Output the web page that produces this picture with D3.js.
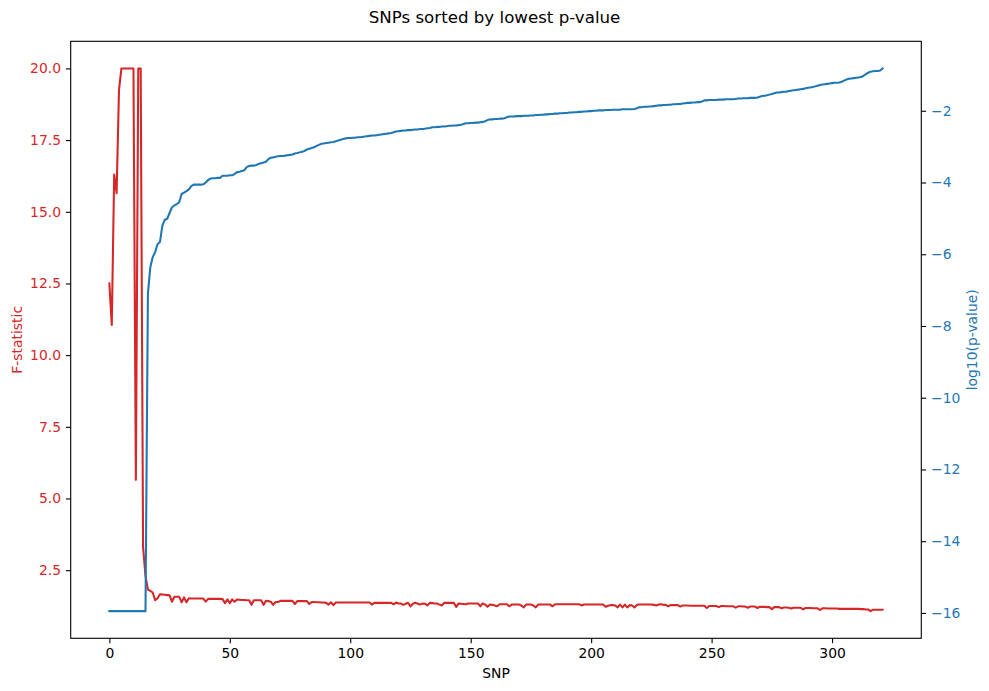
<!DOCTYPE html>
<html>
<head>
<meta charset="utf-8">
<script src="https://cdn.jsdelivr.net/npm/d3@7"></script>
<style>
  body { margin: 0; background: #fff; }
  text { font-family: "DejaVu Sans", sans-serif; }
</style>
</head>
<body>
<div id="chart"></div>
<script>
/* F-statistic per SNP, sorted by lowest p-value. */
const fStatistic = [
  12.5, 11.05, 16.3, 15.65, 19.25, 20, 20, 20, 20, 20,
  20, 5.65, 20, 20, 3.3, 2.3, 1.82, 1.78, 1.72, 1.45,
  1.52, 1.66, 1.65, 1.64, 1.63, 1.62, 1.4, 1.57, 1.57, 1.57,
  1.38, 1.55, 1.38, 1.52, 1.51, 1.51, 1.51, 1.51, 1.51, 1.51,
  1.4, 1.5, 1.5, 1.5, 1.5, 1.5, 1.5, 1.49, 1.35, 1.48,
  1.35, 1.48, 1.4, 1.48, 1.47, 1.46, 1.46, 1.45, 1.45, 1.29,
  1.45, 1.45, 1.45, 1.45, 1.29, 1.43, 1.42, 1.4, 1.29, 1.39,
  1.39, 1.43, 1.43, 1.43, 1.43, 1.43, 1.43, 1.32, 1.42, 1.42,
  1.42, 1.42, 1.42, 1.32, 1.39, 1.39, 1.38, 1.38, 1.37, 1.37,
  1.36, 1.3, 1.38, 1.28, 1.37, 1.37, 1.37, 1.37, 1.37, 1.37,
  1.37, 1.37, 1.37, 1.37, 1.37, 1.37, 1.37, 1.37, 1.37, 1.3,
  1.36, 1.36, 1.36, 1.36, 1.36, 1.36, 1.36, 1.36, 1.31, 1.37,
  1.34, 1.34, 1.29, 1.33, 1.36, 1.24, 1.33, 1.36, 1.33, 1.3,
  1.34, 1.33, 1.27, 1.36, 1.35, 1.34, 1.34, 1.3, 1.27, 1.36,
  1.36, 1.36, 1.36, 1.36, 1.22, 1.34, 1.33, 1.32, 1.31, 1.34,
  1.34, 1.34, 1.34, 1.34, 1.24, 1.34, 1.3, 1.22, 1.3, 1.29,
  1.27, 1.24, 1.31, 1.31, 1.31, 1.31, 1.24, 1.3, 1.3, 1.3,
  1.3, 1.27, 1.2, 1.3, 1.3, 1.3, 1.27, 1.2, 1.3, 1.3,
  1.3, 1.3, 1.3, 1.3, 1.24, 1.31, 1.31, 1.31, 1.31, 1.31,
  1.31, 1.31, 1.31, 1.31, 1.31, 1.31, 1.27, 1.3, 1.3, 1.3,
  1.3, 1.3, 1.3, 1.3, 1.3, 1.3, 1.22, 1.26, 1.28, 1.28,
  1.27, 1.2, 1.3, 1.2, 1.3, 1.2, 1.28, 1.27, 1.2, 1.29,
  1.3, 1.3, 1.3, 1.3, 1.3, 1.3, 1.29, 1.27, 1.3, 1.31,
  1.29, 1.29, 1.24, 1.28, 1.28, 1.28, 1.28, 1.23, 1.27, 1.27,
  1.27, 1.26, 1.26, 1.26, 1.26, 1.26, 1.26, 1.26, 1.18, 1.25,
  1.25, 1.25, 1.25, 1.21, 1.25, 1.25, 1.24, 1.24, 1.24, 1.24,
  1.19, 1.24, 1.24, 1.23, 1.23, 1.19, 1.23, 1.23, 1.23, 1.18,
  1.22, 1.22, 1.22, 1.21, 1.21, 1.14, 1.21, 1.21, 1.21, 1.17,
  1.2, 1.2, 1.19, 1.16, 1.19, 1.19, 1.19, 1.19, 1.13, 1.18,
  1.18, 1.18, 1.17, 1.17, 1.17, 1.11, 1.17, 1.17, 1.16, 1.16,
  1.16, 1.16, 1.16, 1.15, 1.15, 1.15, 1.15, 1.15, 1.15, 1.15,
  1.15, 1.15, 1.14, 1.14, 1.13, 1.13, 1.07, 1.12, 1.12, 1.12,
  1.12, 1.12
]

/* log10(p-value) per SNP. */
const log10PValue = [
  -15.95, -15.95, -15.95, -15.95, -15.95, -15.95, -15.95, -15.95, -15.95, -15.95,
  -15.95, -15.95, -15.95, -15.95, -15.95, -15.95, -7.1, -6.36, -6.08, -5.94,
  -5.72, -5.66, -5.2, -5.04, -5.01, -4.85, -4.69, -4.64, -4.6, -4.55,
  -4.32, -4.28, -4.24, -4.19, -4.1, -4.06, -4.06, -4.06, -4.06, -4.05,
  -4, -3.93, -3.89, -3.88, -3.88, -3.87, -3.87, -3.81, -3.81, -3.81,
  -3.8, -3.8, -3.76, -3.71, -3.7, -3.68, -3.66, -3.57, -3.54, -3.53,
  -3.53, -3.51, -3.48, -3.46, -3.44, -3.42, -3.35, -3.31, -3.3, -3.28,
  -3.27, -3.26, -3.26, -3.25, -3.24, -3.23, -3.22, -3.19, -3.18, -3.16,
  -3.14, -3.12, -3.08, -3.06, -3.04, -3.02, -2.98, -2.95, -2.92, -2.91,
  -2.9, -2.89, -2.88, -2.87, -2.85, -2.83, -2.81, -2.79, -2.77, -2.76,
  -2.76, -2.75, -2.75, -2.74, -2.74, -2.73, -2.72, -2.71, -2.7, -2.69,
  -2.69, -2.68, -2.67, -2.66, -2.65, -2.64, -2.63, -2.62, -2.6, -2.58,
  -2.57, -2.56, -2.55, -2.55, -2.54, -2.54, -2.53, -2.52, -2.52, -2.51,
  -2.51, -2.5, -2.49, -2.48, -2.46, -2.46, -2.45, -2.45, -2.44, -2.44,
  -2.43, -2.42, -2.42, -2.41, -2.41, -2.4, -2.39, -2.37, -2.35, -2.35,
  -2.34, -2.34, -2.33, -2.33, -2.32, -2.31, -2.29, -2.26, -2.24, -2.24,
  -2.23, -2.23, -2.22, -2.22, -2.21, -2.18, -2.16, -2.16, -2.16, -2.15,
  -2.15, -2.15, -2.14, -2.14, -2.14, -2.13, -2.13, -2.12, -2.12, -2.11,
  -2.11, -2.1, -2.1, -2.09, -2.09, -2.08, -2.08, -2.07, -2.07, -2.06,
  -2.06, -2.05, -2.05, -2.04, -2.04, -2.03, -2.03, -2.02, -2.02, -2.01,
  -2.01, -2, -2, -1.99, -1.99, -1.99, -1.98, -1.98, -1.98, -1.97,
  -1.97, -1.97, -1.97, -1.96, -1.96, -1.96, -1.96, -1.96, -1.95, -1.93,
  -1.9, -1.9, -1.89, -1.89, -1.88, -1.88, -1.87, -1.86, -1.85, -1.85,
  -1.84, -1.84, -1.83, -1.83, -1.82, -1.82, -1.81, -1.81, -1.8, -1.79,
  -1.78, -1.78, -1.77, -1.77, -1.76, -1.76, -1.74, -1.71, -1.71, -1.7,
  -1.7, -1.7, -1.7, -1.69, -1.69, -1.69, -1.68, -1.68, -1.68, -1.68,
  -1.67, -1.66, -1.66, -1.65, -1.65, -1.65, -1.64, -1.64, -1.64, -1.63,
  -1.61, -1.59, -1.58, -1.57, -1.55, -1.53, -1.51, -1.49, -1.49, -1.48,
  -1.47, -1.47, -1.45, -1.44, -1.43, -1.42, -1.41, -1.4, -1.39, -1.37,
  -1.36, -1.35, -1.34, -1.32, -1.3, -1.28, -1.27, -1.26, -1.25, -1.24,
  -1.23, -1.22, -1.22, -1.21, -1.19, -1.16, -1.13, -1.11, -1.1, -1.09,
  -1.08, -1.07, -1.06, -1.03, -0.98, -0.94, -0.91, -0.9, -0.89, -0.89,
  -0.88, -0.82
]

/* Tick values. */
const xTicks = [0, 50, 100, 150, 200, 250, 300]
const fTicks = [2.5, 5, 7.5, 10, 12.5, 15, 17.5, 20]
const pTicks = [-16, -14, -12, -10, -8, -6, -4, -2]

/* Define svg-size and plot box. */
const width = 989
const height = 691
const margin = {top: 41.3, right: 67.7, bottom: 52.7, left: 70.7}

const red = "#d62728"
const blue = "#1f77b4"
const tickFont = 13.9

/* Pad a domain by 5% like matplotlib. */
const pad = ([lo, hi]) => [lo - (hi - lo) * 0.05, hi + (hi - lo) * 0.05]

/* Create svg-element. */
const svg = d3.select("#chart")
  .append("svg")
  .attr("width", width)
  .attr("height", height)

/* Define scales. */
const x = d3.scaleLinear()
  .domain(pad([0, fStatistic.length - 1]))
  .range([margin.left, width - margin.right])

const yF = d3.scaleLinear()
  .domain(pad(d3.extent(fStatistic)))
  .range([height - margin.bottom, margin.top])

const yP = d3.scaleLinear()
  .domain(pad(d3.extent(log10PValue)))
  .range([height - margin.bottom, margin.top])

/* Style an axis group. */
const styleAxis = (g, color) => {
  g.select(".domain").remove()
  g.selectAll(".tick line").attr("stroke", "#000").attr("stroke-width", 1.1)
  g.selectAll(".tick text")
    .attr("fill", color)
    .attr("font-size", tickFont)
    .attr("font-family", "DejaVu Sans, sans-serif")
}

/* Draw axes. */
svg.append("g")
  .attr("transform", `translate(0,${height - margin.bottom})`)
  .call(d3.axisBottom(x).tickValues(xTicks).tickSize(4.86).tickPadding(4.86))
  .call(g => styleAxis(g, "#000"))

svg.append("g")
  .attr("transform", `translate(${margin.left},0)`)
  .call(d3.axisLeft(yF).tickValues(fTicks).tickFormat(d3.format(".1f")).tickSize(4.86).tickPadding(4.86))
  .call(g => styleAxis(g, red))

svg.append("g")
  .attr("transform", `translate(${width - margin.right},0)`)
  .call(d3.axisRight(yP).tickValues(pTicks).tickFormat(d3.format("d")).tickSize(4.86).tickPadding(4.86))
  .call(g => styleAxis(g, blue))

/* Draw the lines. */
const fLine = d3.line()
  .x((d, i) => x(i))
  .y(d => yF(d))

const pLine = d3.line()
  .x((d, i) => x(i))
  .y(d => yP(d))

svg.append("path")
  .datum(fStatistic)
  .attr("fill", "none")
  .attr("stroke", red)
  .attr("stroke-width", 2.08)
  .attr("stroke-linejoin", "round")
  .attr("stroke-linecap", "square")
  .attr("d", fLine)

svg.append("path")
  .datum(log10PValue)
  .attr("fill", "none")
  .attr("stroke", blue)
  .attr("stroke-width", 2.08)
  .attr("stroke-linejoin", "round")
  .attr("stroke-linecap", "square")
  .attr("d", pLine)

/* Draw the frame. */
svg.append("rect")
  .attr("x", margin.left)
  .attr("y", margin.top)
  .attr("width", width - margin.left - margin.right)
  .attr("height", height - margin.top - margin.bottom)
  .attr("fill", "none")
  .attr("stroke", "#000")
  .attr("stroke-width", 1.1)

/* Title and labels. */
svg.append("text")
  .attr("x", width / 2)
  .attr("y", 22.5)
  .attr("text-anchor", "middle")
  .attr("font-size", 16.67)
  .text("SNPs sorted by lowest p-value")

svg.append("text")
  .attr("x", (margin.left + width - margin.right) / 2)
  .attr("y", 678)
  .attr("text-anchor", "middle")
  .attr("font-size", tickFont)
  .text("SNP")

const midY = (margin.top + height - margin.bottom) / 2

svg.append("text")
  .attr("transform", `translate(16.5,${midY}) rotate(-90)`)
  .attr("text-anchor", "middle")
  .attr("dominant-baseline", "central")
  .attr("font-size", tickFont)
  .attr("fill", red)
  .text("F-statistic")

svg.append("text")
  .attr("transform", `translate(972,${midY}) rotate(-90)`)
  .attr("text-anchor", "middle")
  .attr("dominant-baseline", "central")
  .attr("font-size", tickFont)
  .attr("fill", blue)
  .text("log10(p-value)")
</script>
</body>
</html>
